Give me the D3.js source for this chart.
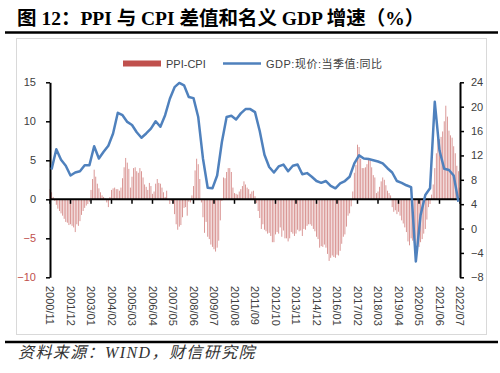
<!DOCTYPE html>
<html>
<head>
<meta charset="utf-8">
<script src="https://cdn.jsdelivr.net/npm/d3@7"></script>
<style>
  body { margin: 0; background: #fff; }
  svg { display: block; font-family: "Liberation Sans", "Noto Sans CJK SC", sans-serif; }
</style>
</head>
<body>
<svg id="chart" width="500" height="373"></svg>
<script>
// PPI minus CPI, monthly, 2000/11 .. 2022/07 (percentage points)
const ppiCpiGap = [
  1.3, 0.9,                                                             // 2000 Nov-Dec
  0.3, -0.2, -0.7, -1.2, -1.5, -1.8, -2.1, -2.5, -2.9, -3.0, -3.3, -3.2, // 2001
  -3.4, -3.6, -4.2, -3.2, -3.4, -2.8, -2.0, -1.5, -1.1, -0.8, -0.6, -0.3, // 2002
  1.2, 2.6, 3.8, 2.9, 2.0, 1.4, 0.9, 0.5, 0.3, 0.1, -0.4, -1.0,        // 2003
  0.3, 1.2, 1.4, 1.5, 1.3, 1.3, 1.1, 1.5, 2.7, 4.1, 5.3, 4.7,          // 2004
  3.9, 1.5, 2.9, 4.0, 4.1, 3.6, 3.4, 4.0, 3.6, 2.8, 1.9, 1.6,          // 2005
  1.2, 2.1, 1.7, 0.7, 1.0, 2.0, 2.6, 2.1, 2.0, 1.5, 0.9, 0.3,          // 2006
  1.1, -0.1, -0.6, -0.2, -0.6, -1.9, -3.2, -3.9, -3.5, -3.3, -2.3, -1.1, // 2007
  -1.0, -2.1, -0.3, -0.4, 0.5, 1.7, 3.7, 5.2, 4.5, 2.6, -0.4, -2.3,    // 2008
  -4.3, -2.9, -4.8, -5.1, -5.8, -6.1, -6.4, -6.7, -6.2, -5.3, -2.7, -0.2, // 2009
  2.8, 2.7, 3.5, 4.0, 4.0, 3.5, 1.5, 0.8, 0.7, 0.6, 1.0, 1.3,          // 2010
  1.7, 2.3, 1.9, 1.5, 1.3, 0.7, 1.0, 1.1, 0.4, -0.5, -1.5, -2.4,       // 2011
  -3.8, -3.2, -3.9, -4.1, -4.4, -4.3, -4.7, -5.5, -5.5, -4.5, -4.2, -4.4, // 2012
  -3.6, -4.8, -4.0, -5.0, -5.0, -5.4, -5.0, -4.2, -4.4, -4.7, -4.4, -3.9, // 2013
  -4.1, -4.0, -4.7, -3.8, -3.9, -3.4, -3.2, -3.2, -3.4, -3.8, -4.1, -4.8, // 2014
  -5.1, -6.2, -6.0, -6.1, -5.8, -6.2, -7.0, -7.9, -7.5, -7.2, -7.4, -7.5, // 2015
  -7.1, -7.2, -6.6, -5.7, -4.8, -4.5, -3.5, -2.1, -1.8, -0.9, 1.0, 3.4, // 2016
  4.4, 7.0, 6.7, 5.2, 4.0, 4.0, 4.1, 4.5, 5.3, 5.0, 4.1, 3.1,          // 2017
  2.8, 0.8, 1.0, 1.6, 2.3, 2.8, 2.5, 1.8, 1.1, 0.8, 0.5, -1.0,         // 2018
  -1.6, -1.4, -1.9, -1.6, -2.1, -2.7, -3.1, -3.6, -4.2, -5.4, -5.9, -5.0, // 2019
  -5.3, -5.6, -5.8, -6.4, -6.1, -5.5, -5.1, -4.4, -3.8, -2.6, -1.0, -0.6, // 2020
  0.6, 1.9, 4.0, 5.9, 7.7, 7.7, 8.0, 8.7, 10.0, 12.0, 10.6, 8.8,       // 2021
  8.2, 7.9, 6.8, 5.9, 4.3, 3.6, 1.5                                     // 2022 Jan-Jul
];

// Nominal GDP yoy, quarterly, 2000Q4 .. 2022Q2
const gdpNominal = [
  9.7,                       // 2000Q4
  13.0, 11.3, 10.3, 8.7,     // 2001
  9.2, 9.4, 10.4, 10.4,      // 2002
  13.5, 11.5, 12.6, 13.6,    // 2003
  15.6, 19.0, 18.6, 17.5,    // 2004
  17.0, 15.8, 14.9, 15.6,    // 2005
  16.4, 17.6, 16.7, 18.6,    // 2006
  21.3, 23.2, 23.9, 23.5,    // 2007
  21.6, 21.4, 18.3, 11.5,    // 2008
  6.7, 6.6, 8.7, 14.2,       // 2009
  18.3, 18.5, 17.9, 18.9,    // 2010
  19.6, 19.6, 19.1, 16.0,    // 2011
  12.1, 10.1, 9.2, 10.2,     // 2012
  10.5, 9.4, 10.3, 10.5,     // 2013
  8.9, 9.1, 8.5, 7.8,        // 2014
  7.5, 7.8, 7.0, 6.6,        // 2015
  7.4, 7.8, 8.5, 10.7,       // 2016
  12.0, 11.5, 11.4, 11.2,    // 2017
  11.0, 10.7, 9.9, 9.2,      // 2018
  7.8, 7.5, 7.1, 6.8,        // 2019
  -5.4, 2.2, 5.5, 6.6,       // 2020
  20.8, 12.8, 9.8, 9.6,      // 2021
  8.7, 4.4                   // 2022
];

const xTickLabels = [
  '2000/11', '2001/12', '2003/01', '2004/02', '2005/03', '2006/04', '2007/05',
  '2008/06', '2009/07', '2010/08', '2011/09', '2012/10', '2013/11', '2014/12',
  '2016/01', '2017/02', '2018/03', '2019/04', '2020/05', '2021/06', '2022/07'
];
const leftTicks = [-10, -5, 0, 5, 10, 15];
const rightTicks = [-8, -4, 0, 4, 8, 12, 16, 20, 24];
const seriesNames = ['PPI-CPI', 'GDP:现价:当季值:同比'];

const titleText = '图 12：PPI 与 CPI 差值和名义 GDP 增速（%）';
const sourceText = '资料来源：WIND，财信研究院';

const BAR_COLOR = '#c0504d';
const LINE_COLOR = '#4f81bd';
const TEXT_COLOR = '#404040';

// month index counted from 2000/11
const monthIndex = label => {
  const [y, m] = label.split('/').map(Number);
  return (y - 2000) * 12 + (m - 11);
};

const svg = d3.select('#chart');

const x = d3.scaleLinear().domain([0, ppiCpiGap.length - 1]).range([50, 460]);
const yLeft = d3.scaleLinear().domain([-10, 15]).range([277.3, 82.3]);
const yRight = d3.scaleLinear().domain([-8, 24]).range([277.3, 82.3]);

// title and rules
svg.append('text')
  .attr('x', 17).attr('y', 24.5)
  .style('font-family', '"Liberation Serif", "Noto Sans CJK SC", serif')
  .style('font-weight', 'bold')
  .style('font-size', '19.5px')
  .attr('fill', '#000')
  .text(titleText);

svg.append('line')
  .attr('x1', 5).attr('x2', 498).attr('y1', 32.5).attr('y2', 32.5)
  .attr('stroke', '#000').attr('stroke-width', 2.5);

svg.append('rect')
  .attr('x', 16.5).attr('y', 38.5).attr('width', 470).attr('height', 296)
  .attr('fill', '#fff').attr('stroke', '#d9d9d9');

svg.append('line')
  .attr('x1', 5).attr('x2', 498).attr('y1', 342).attr('y2', 342)
  .attr('stroke', '#000').attr('stroke-width', 2.5);

svg.append('text')
  .attr('x', 18).attr('y', 358)
  .style('font-family', '"Liberation Serif", "Noto Sans CJK SC", serif')
  .style('font-style', 'italic')
  .style('font-size', '16px')
  .style('letter-spacing', '1.4px')
  .attr('fill', '#333')
  .text(sourceText);

// bars
svg.append('g')
  .selectAll('rect')
  .data(ppiCpiGap)
  .join('rect')
  .attr('x', (d, i) => x(i) - 0.45)
  .attr('width', 0.9)
  .attr('y', d => Math.min(yLeft(d), yLeft(0)))
  .attr('height', d => Math.abs(yLeft(d) - yLeft(0)))
  .attr('fill', BAR_COLOR)
  .attr('fill-opacity', 0.65);

// zero line with month ticks
const zeroY = yLeft(0);
svg.append('line')
  .attr('x1', x(0)).attr('x2', x(ppiCpiGap.length - 1))
  .attr('y1', zeroY).attr('y2', zeroY)
  .attr('stroke', '#000').attr('stroke-width', 2);

svg.append('g')
  .selectAll('line')
  .data(xTickLabels)
  .join('line')
  .attr('x1', d => x(monthIndex(d))).attr('x2', d => x(monthIndex(d)))
  .attr('y1', zeroY).attr('y2', zeroY + 4.5)
  .attr('stroke', '#000').attr('stroke-width', 1.5);

svg.append('g')
  .selectAll('text')
  .data(xTickLabels)
  .join('text')
  .attr('transform', d => `translate(${x(monthIndex(d))},286) rotate(90)`)
  .attr('dy', '0.35em')
  .style('font-size', '11px')
  .attr('fill', TEXT_COLOR)
  .text(d => d);

// left axis
const leftAxis = svg.append('g').attr('transform', 'translate(50,0)')
  .call(d3.axisLeft(yLeft).tickValues(leftTicks).tickSize(4).tickPadding(10).tickSizeOuter(0));
leftAxis.select('.domain').attr('stroke', '#000').attr('stroke-width', 2);
leftAxis.selectAll('.tick line').attr('stroke', '#000').attr('stroke-width', 1.5);
leftAxis.selectAll('.tick text')
  .style('font-family', '"Liberation Sans", sans-serif')
  .style('font-size', '11px')
  .attr('fill', d => d < 0 ? BAR_COLOR : TEXT_COLOR);

// right axis
const rightAxis = svg.append('g').attr('transform', 'translate(460,0)')
  .call(d3.axisRight(yRight).tickValues(rightTicks).tickSize(4).tickPadding(7).tickSizeOuter(0));
rightAxis.select('.domain').attr('stroke', '#000').attr('stroke-width', 2);
rightAxis.selectAll('.tick line').attr('stroke', '#000').attr('stroke-width', 1.5);
rightAxis.selectAll('.tick text')
  .style('font-family', '"Liberation Sans", sans-serif')
  .style('font-size', '11px')
  .attr('fill', TEXT_COLOR);

// GDP line, quarter-end months (2000/12, 2001/03, ...)
const line = d3.line()
  .x((d, i) => x(1 + 3 * i))
  .y(d => yRight(d));

svg.append('path')
  .datum(gdpNominal)
  .attr('d', line)
  .attr('fill', 'none')
  .attr('stroke', LINE_COLOR)
  .attr('stroke-width', 2.5)
  .attr('stroke-linejoin', 'round');

// legend
const legend = svg.append('g').style('font-size', '11px');
legend.append('rect')
  .attr('x', 123).attr('y', 60.5).attr('width', 38).attr('height', 6)
  .attr('fill', BAR_COLOR);
legend.append('text')
  .attr('x', 166).attr('y', 67.5)
  .attr('fill', TEXT_COLOR)
  .text(seriesNames[0]);
legend.append('line')
  .attr('x1', 223).attr('x2', 261).attr('y1', 63.5).attr('y2', 63.5)
  .attr('stroke', LINE_COLOR).attr('stroke-width', 2.5);
legend.append('text')
  .attr('x', 266).attr('y', 67.5)
  .attr('fill', TEXT_COLOR)
  .style('letter-spacing', '0.5px')
  .text(seriesNames[1]);
</script>
</body>
</html>
